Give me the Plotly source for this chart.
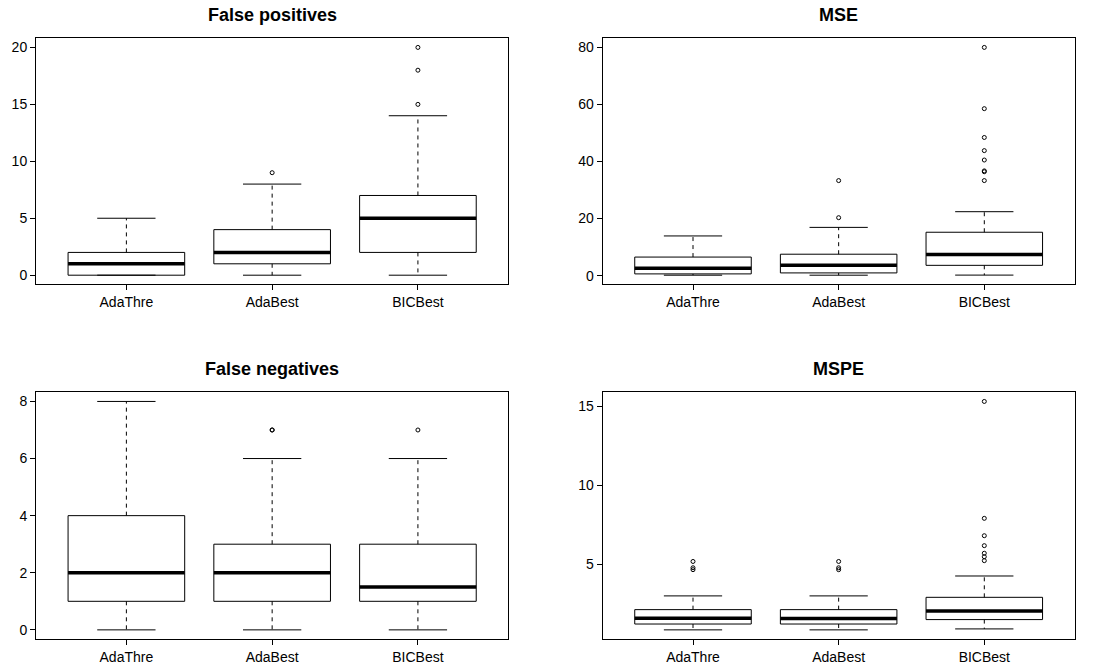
import plotly.graph_objects as go

# ---------------- data ----------------
categories = ["AdaThre", "AdaBest", "BICBest"]

fp_lower = [0, 0, 0]
fp_q1 = [0, 1, 2]
fp_median = [1, 2, 5]
fp_q3 = [2, 4, 7]
fp_upper = [5, 8, 14]
fp_outliers = [[], [9], [15, 18, 20]]

mse_lower = [0.15, 0.15, 0.18]
mse_q1 = [0.6, 0.95, 3.6]
mse_median = [2.55, 3.6, 7.4]
mse_q3 = [6.5, 7.5, 15.2]
mse_upper = [13.9, 16.9, 22.4]
mse_outliers = [[], [20.3, 33.3], [33.3, 36.4, 36.7, 40.5, 43.8, 48.4, 58.5, 79.96]]

fn_lower = [0, 0, 0]
fn_q1 = [1, 1, 1]
fn_median = [2, 2, 1.5]
fn_q3 = [4, 3, 3]
fn_upper = [8, 6, 6]
fn_outliers = [[], [7, 7], [7]]

mspe_lower = [0.85, 0.85, 0.91]
mspe_q1 = [1.22, 1.22, 1.50]
mspe_median = [1.58, 1.57, 2.05]
mspe_q3 = [2.13, 2.13, 2.91]
mspe_upper = [3.0, 3.0, 4.26]
mspe_outliers = [[4.66, 4.78, 5.18], [4.66, 4.78, 5.18],
                 [5.23, 5.48, 5.70, 6.18, 6.81, 7.91, 15.31]]

titles = ["False positives", "MSE", "False negatives", "MSPE"]
yticks = [[0, 5, 10, 15, 20], [0, 20, 40, 60, 80], [0, 2, 4, 6, 8], [5, 10, 15]]

panels = [
    (fp_lower, fp_q1, fp_median, fp_q3, fp_upper, fp_outliers),
    (mse_lower, mse_q1, mse_median, mse_q3, mse_upper, mse_outliers),
    (fn_lower, fn_q1, fn_median, fn_q3, fn_upper, fn_outliers),
    (mspe_lower, mspe_q1, mspe_median, mspe_q3, mspe_upper, mspe_outliers),
]

# ---------------- layout geometry (pixels -> paper) ----------------
W, H = 1094, 666
xdoms = [(36 / W, 508.3 / W), (602.7 / W, 1074.6 / W)]
ydoms = [(1 - 284.3 / H, 1 - 38.3 / H), (1 - 639 / H, 1 - 392.3 / H)]
title_y = [1 - 14.5 / H, 1 - 369 / H]

FONT = "Liberation Sans, Arial, Helvetica, sans-serif"
HALF = 0.4      # half box width (boxwex 0.8)
CAP = 0.2       # half staple width

fig = go.Figure()
layout = dict(
    width=W, height=H, margin=dict(l=0, r=0, t=0, b=0),
    paper_bgcolor="white", plot_bgcolor="white", showlegend=False,
    font=dict(family=FONT, color="black", size=14),
)
annotations = []

for p, (lo, q1, med, q3, up, outl) in enumerate(panels):
    r, c = divmod(p, 2)
    ax = "" if p == 0 else str(p + 1)
    xa, ya = "x" + ax, "y" + ax

    box_x, box_y, med_x, med_y = [], [], [], []
    wh_x, wh_y, cap_x, cap_y, out_x, out_y = [], [], [], [], [], []
    for i in range(len(categories)):
        x = i + 1
        box_x += [x - HALF, x + HALF, x + HALF, x - HALF, x - HALF, None]
        box_y += [q1[i], q1[i], q3[i], q3[i], q1[i], None]
        med_x += [x - HALF, x + HALF, None]
        med_y += [med[i], med[i], None]
        wh_x += [x, x, None, x, x, None]
        wh_y += [q3[i], up[i], None, q1[i], lo[i], None]
        cap_x += [x - CAP, x + CAP, None, x - CAP, x + CAP, None]
        cap_y += [up[i], up[i], None, lo[i], lo[i], None]
        for v in outl[i]:
            out_x.append(x)
            out_y.append(v)

    common = dict(xaxis=xa, yaxis=ya, hoverinfo="skip", mode="lines")
    fig.add_trace(go.Scatter(x=wh_x, y=wh_y, line=dict(color="black", width=1, dash="4px,4px"), **common))
    fig.add_trace(go.Scatter(x=cap_x, y=cap_y, line=dict(color="black", width=1), **common))
    fig.add_trace(go.Scatter(x=box_x, y=box_y, line=dict(color="black", width=1), **common))
    fig.add_trace(go.Scatter(x=med_x, y=med_y, line=dict(color="black", width=3.5), **common))
    fig.add_trace(go.Scatter(x=out_x, y=out_y, mode="markers", xaxis=xa, yaxis=ya, hoverinfo="skip",
                             marker=dict(symbol="circle-open", size=4, color="black",
                                         line=dict(width=1, color="black"))))

    allv = lo + up + [v for o in outl for v in o]
    vmin, vmax = min(allv), max(allv)
    pad = 0.04 * (vmax - vmin)

    axis_common = dict(showline=True, mirror=True, linecolor="black", linewidth=1,
                       showgrid=False, zeroline=False, ticks="outside", ticklen=5,
                       tickcolor="black", tickwidth=1,
                       tickfont=dict(family=FONT, size=14, color="black"))
    layout["xaxis" + ax] = dict(domain=list(xdoms[c]), anchor=ya, range=[0.38, 3.62],
                                tickmode="array", tickvals=[1, 2, 3], ticktext=categories,
                                **axis_common)
    layout["yaxis" + ax] = dict(domain=list(ydoms[r]), anchor=xa, range=[vmin - pad, vmax + pad],
                                tickmode="array", tickvals=yticks[p],
                                ticktext=[str(t) for t in yticks[p]], **axis_common)
    annotations.append(dict(text="<b>" + titles[p] + "</b>", xref="paper", yref="paper",
                            x=(xdoms[c][0] + xdoms[c][1]) / 2, y=title_y[r],
                            xanchor="center", yanchor="middle", showarrow=False,
                            font=dict(family=FONT, size=18, color="black")))

layout["annotations"] = annotations
fig.update_layout(**layout)
fig.write_html("out.html")
